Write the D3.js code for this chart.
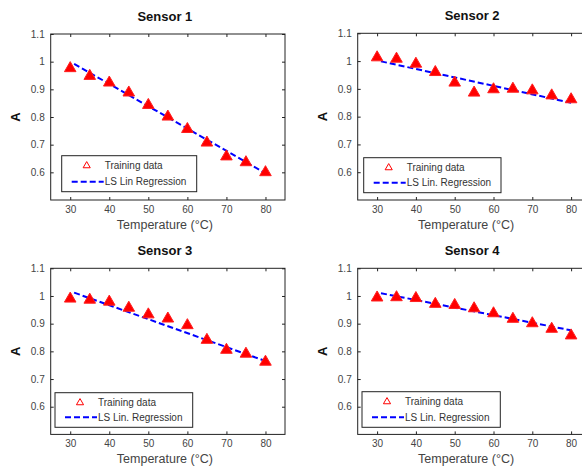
<!DOCTYPE html>
<html><head><meta charset="utf-8">
<script src="https://cdn.jsdelivr.net/npm/d3@7"></script>
<style>body{margin:0;background:#fff;overflow:hidden}svg{display:block}</style>
</head><body>
<script>
const temps = [30,35,40,45,50,55,60,65,70,75,80];
const sensor1 = [0.976,0.948,0.924,0.888,0.843,0.801,0.756,0.707,0.657,0.636,0.600];
const sensor2 = [1.013,1.008,0.990,0.960,0.922,0.886,0.898,0.900,0.894,0.876,0.862];
const sensor3 = [0.990,0.986,0.979,0.957,0.933,0.918,0.894,0.841,0.805,0.791,0.762];
const sensor4 = [0.994,0.995,0.992,0.971,0.967,0.955,0.937,0.917,0.901,0.881,0.857];
const regT = [31, 80];
const reg1 = [0.992, 0.597];
const reg2 = [0.999, 0.850];
const reg3 = [1.012, 0.765];
const reg4 = [1.010, 0.876];
const titles = ["Sensor 1","Sensor 2","Sensor 3","Sensor 4"];
const legendLabels = [["Training data","LS Lin Regression"],["Training data","LS Lin. Regression"],["Training data","LS Lin. Regression"],["Training data","LS Lin. Regression"]];
const xTicks = [30,40,50,60,70,80];
const yTicks = [0.6,0.7,0.8,0.9,1,1.1];
const xDomain = [25,85], yDomain = [0.5,1.1];

const series = [sensor1,sensor2,sensor3,sensor4];
const regs = [reg1,reg2,reg3,reg4];
const panels = [
  {x0:50.7,x1:285,y0:34,y1:200, leg:[61.7,155.7,135,36]},
  {x0:357.7,x1:590.5,y0:33.3,y1:200, leg:[363.7,157.7,137.3,35]},
  {x0:50.7,x1:285,y0:268.3,y1:434.4, leg:[55,392.7,137.7,34.6]},
  {x0:357.7,x1:590.5,y0:268.3,y1:434.4, leg:[362,391.7,138.3,35.6]}
];
const svg = d3.select("body").append("svg").attr("width",582).attr("height",471)
  .style("font-family","'Liberation Sans', Arial, sans-serif");
const tickCol = "#444";

panels.forEach((p,i)=>{
  const x = d3.scaleLinear().domain(xDomain).range([p.x0,p.x1]);
  const y = d3.scaleLinear().domain(yDomain).range([p.y1,p.y0]);
  const g = svg.append("g");
  g.append("rect").attr("x",p.x0).attr("y",p.y0).attr("width",p.x1-p.x0).attr("height",p.y1-p.y0)
    .attr("fill","none").attr("stroke","#222").attr("stroke-width",1);
  const ax = d3.axisBottom(x).tickValues(xTicks).tickSizeInner(-3).tickSizeOuter(0).tickPadding(6).tickFormat(d3.format("d"));
  const gx = g.append("g").attr("transform",`translate(0,${p.y1})`).call(ax);
  const axT = d3.axisTop(x).tickValues(xTicks).tickSizeInner(-3).tickSizeOuter(0).tickFormat("");
  const gxt = g.append("g").attr("transform",`translate(0,${p.y0})`).call(axT);
  const ay = d3.axisLeft(y).tickValues(yTicks).tickSizeInner(-3).tickSizeOuter(0).tickPadding(6).tickFormat(d=>d3.format("")(+d.toFixed(1)));
  const gy = g.append("g").attr("transform",`translate(${p.x0},0)`).call(ay);
  const ayR = d3.axisRight(y).tickValues(yTicks).tickSizeInner(-3).tickSizeOuter(0).tickFormat("");
  const gyr = g.append("g").attr("transform",`translate(${p.x1},0)`).call(ayR);
  [gx,gxt,gy,gyr].forEach(a=>{
    a.select(".domain").remove();
    a.selectAll("line").attr("stroke","#222");
    a.selectAll("text").attr("fill",tickCol).style("font-size","10px").style("font-family","'Liberation Sans', Arial, sans-serif");
  });
  g.append("text").attr("x",(p.x0+p.x1)/2 - (i%2?2:3)).attr("y",p.y0-13).attr("text-anchor","middle")
    .style("font-size","13px").style("font-weight","bold").attr("fill","#111").text(titles[i]);
  g.append("text").attr("x",(p.x0+p.x1)/2 - (i%2?8:3)).attr("y",p.y1+29).attr("text-anchor","middle")
    .style("font-size","12.5px").attr("fill","#444").text("Temperature (°C)");
  const ylx = p.x0-31, yly = (p.y0+p.y1)/2;
  g.append("text").attr("transform",`translate(${ylx},${yly}) rotate(-90)`).attr("text-anchor","middle")
    .style("font-size","13px").style("font-weight","bold").attr("fill","#111").text("A");
  const line = d3.line().x((d,j)=>x(regT[j])).y(d=>y(d));
  g.append("path").datum(regs[i]).attr("d",line).attr("fill","none").attr("stroke","#0000ff")
    .attr("stroke-width",2).attr("stroke-dasharray","6,3");
  const sym = d3.symbol().type(d3.symbolTriangle).size(58);
  g.selectAll(".tri").data(series[i]).join("path")
    .attr("transform",(d,j)=>`translate(${x(temps[j])},${y(d)})`)
    .attr("d",sym).attr("fill","#ff0000").attr("stroke","#ff2020").attr("stroke-width",1);
  const [lx,ly,lw,lh] = p.leg;
  g.append("rect").attr("x",lx).attr("y",ly).attr("width",lw).attr("height",lh)
    .attr("fill","#fff").attr("stroke","#222").attr("stroke-width",1);
  g.append("path").attr("transform",`translate(${lx+25},${ly+10})`)
    .attr("d",d3.symbol().type(d3.symbolTriangle).size(22)).attr("fill","none").attr("stroke","#ff0000").attr("stroke-width",1);
  g.append("line").attr("x1",lx+10).attr("x2",lx+42).attr("y1",ly+lh-10).attr("y2",ly+lh-10)
    .attr("stroke","#0000ff").attr("stroke-width",2).attr("stroke-dasharray","6,3");
  g.append("text").attr("x",lx+43).attr("y",ly+13.5).style("font-size","10px").attr("fill","#333").text(legendLabels[i][0]);
  g.append("text").attr("x",lx+43).attr("y",ly+lh-6.5).style("font-size","10px").attr("fill","#333").text(legendLabels[i][1]);
});
</script>
</body></html>
